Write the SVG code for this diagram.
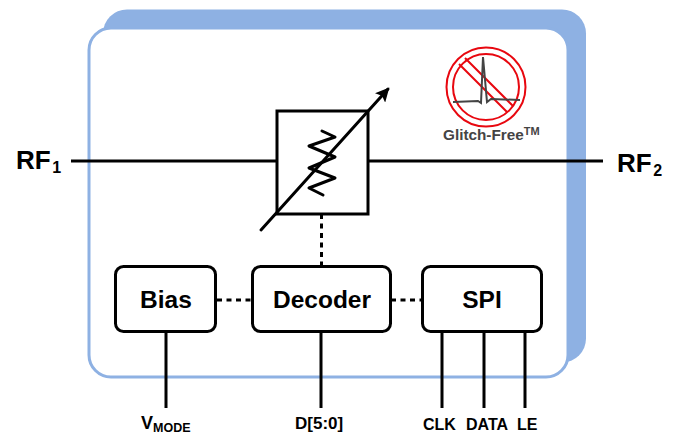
<svg xmlns="http://www.w3.org/2000/svg" width="673" height="433" viewBox="0 0 673 433">
<style>
text{font-family:"Liberation Sans",Arial,sans-serif;font-weight:bold;fill:#000}
.w{stroke:#000;stroke-width:3;fill:none}
.d{stroke:#000;stroke-width:3;fill:none;stroke-dasharray:5 4.5}
.b{fill:#fff;stroke:#000;stroke-width:3}
.l{font-size:24.5px;text-anchor:middle}
.s{font-size:16px}
</style>
<defs><marker id="ah" markerWidth="16" markerHeight="14" refX="12" refY="7" orient="auto" markerUnits="userSpaceOnUse"><path d="M0 0L14 7L0 14L3 7Z" fill="#000"/></marker></defs>
<g id="package">
<rect x="103" y="9.500" width="483" height="353" rx="24" fill="#8EB1E3"/>
<rect x="89" y="28" width="479" height="349" rx="22" fill="#fff" stroke="#8EB1E3" stroke-width="3"/>
</g>
<g id="connectors">
<path class="w" d="M71 161H277M368 161H603"/>
<path class="d" d="M321.500 214V267M217 300H252M391 300H423"/>
<path class="w" d="M166 331V408M321 331V408M442 331V408M484 331V408M525 331V408"/>
</g>
<g id="attenuator">
<rect x="277" y="111" width="91" height="103" fill="#fff" stroke="#000" stroke-width="3"/>
<path d="M322 131L335 137L309 146L335 157L309 168L335 178L309 188L323 195" fill="none" stroke="#000" stroke-width="3" stroke-linejoin="round" stroke-linecap="round"/>
<path d="M261 230L388 89" stroke="#000" stroke-width="3" stroke-linecap="round" fill="none" marker-end="url(#ah)"/>
</g>
<g id="bias"><rect class="b" x="115.500" y="266.500" width="100" height="65" rx="8"/><text class="l" x="166" y="308">Bias</text></g>
<g id="decoder"><rect class="b" x="252.500" y="266.500" width="138" height="65" rx="8"/><text class="l" x="322" y="308">Decoder</text></g>
<g id="spi"><rect class="b" x="422.500" y="266.500" width="119" height="65" rx="8"/><text class="l" x="482" y="308">SPI</text></g>
<g id="glitch-free">
<circle cx="486" cy="87" r="39.500" fill="none" stroke="#E8070F" stroke-width="2"/>
<circle cx="486" cy="87" r="33" fill="none" stroke="#E8070F" stroke-width="2"/>
<path d="M459 64L507 112M465 58L513 106" stroke="#E8070F" stroke-width="2" fill="none"/>
<path d="M453 102L478 101L481 103L483 57L487 102L491 99L520 100" fill="none" stroke="#444" stroke-width="2"/>
<text x="443" y="140" font-size="15.300" style="fill:#444">Glitch-Free<tspan font-size="11" dy="-5">TM</tspan></text>
</g>
<g id="labels">
<text x="16" y="169" font-size="26">RF<tspan font-size="16" dy="4" dx="1.500">1</tspan></text>
<text x="617" y="171.500" font-size="26">RF<tspan font-size="16" dy="4" dx="1.500">2</tspan></text>
<text x="141" y="429" font-size="18">V<tspan font-size="12.500" dy="2.500">MODE</tspan></text>
<text x="295" y="428.500" font-size="17">D[5:0]</text>
<text class="s" x="423" y="430">CLK</text>
<text class="s" x="466" y="430">DATA</text>
<text class="s" x="517" y="430">LE</text>
</g>
</svg>
